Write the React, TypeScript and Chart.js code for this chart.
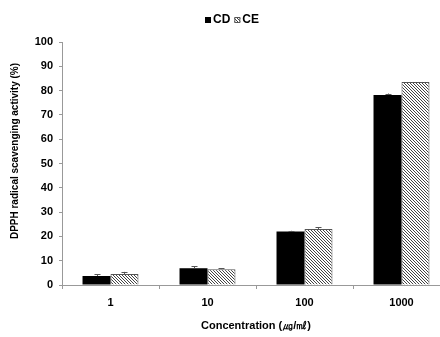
import React, { useEffect, useRef } from "react";
import { Chart, registerables } from "chart.js";

Chart.register(...registerables);

const categories = ["1", "10", "100", "1000"];
const cdValues = [3.7, 6.9, 22.0, 78.2];
const cdErrors = [0.7, 0.9, 0.3, 0.6];
const ceValues = [4.5, 6.5, 23.0, 83.5];
const ceErrors = [0.9, 0.3, 0.7, 0];
const seriesLabels = ["CD", "CE"];
const yTitle = "DPPH radical scavenging activity (%)";
const xTitle = "Concentration (㎍/㎖)";

const FONT = "'Liberation Sans', Arial, sans-serif";

function makeHatch(): CanvasPattern | string {
  const c = document.createElement("canvas");
  c.width = 3;
  c.height = 3;
  const ctx = c.getContext("2d");
  if (!ctx) return "#999";
  ctx.fillStyle = "#ffffff";
  ctx.fillRect(0, 0, 3, 3);
  ctx.fillStyle = "#444444";
  for (let i = 0; i < 3; i++) ctx.fillRect(i, i, 1, 1);
  const p = ctx.createPattern(c, "repeat");
  return p || "#999";
}

const errorBarPlugin = {
  id: "errorBars",
  afterDatasetsDraw(chart: any) {
    const ctx = chart.ctx;
    const yScale = chart.scales.y;
    const errs = [cdErrors, ceErrors];
    chart.data.datasets.forEach((ds: any, di: number) => {
      const meta = chart.getDatasetMeta(di);
      meta.data.forEach((el: any, i: number) => {
        const e = errs[di][i];
        if (!e) return;
        const v = ds.data[i];
        const yTop = yScale.getPixelForValue(v + e);
        const x = Math.round(el.x) + 0.5;
        ctx.save();
        ctx.strokeStyle = "#555555";
        ctx.lineWidth = 1;
        ctx.beginPath();
        ctx.moveTo(x, el.y);
        ctx.lineTo(x, yTop);
        ctx.moveTo(x - 3, Math.round(yTop) + 0.5);
        ctx.lineTo(x + 3, Math.round(yTop) + 0.5);
        ctx.stroke();
        ctx.restore();
      });
    });
  },
};

// Custom legend + rotated y title, drawn from the dataset labels / title constant
const legendAndTitlePlugin = {
  id: "legendAndTitle",
  afterDraw(chart: any) {
    const ctx = chart.ctx;
    ctx.save();
    // legend
    ctx.font = `bold 12px ${FONT}`;
    ctx.textBaseline = "middle";
    ctx.textAlign = "left";
    const box = 6;
    const gapBox = 2;
    const gapItem = 4;
    const items = chart.data.datasets.map((ds: any) => ({
      label: ds.label,
      fill: ds.backgroundColor,
      border: ds.borderWidth ? ds.borderColor : null,
      w: box + gapBox + ctx.measureText(ds.label).width,
    }));
    const total =
      items.reduce((s: number, it: any) => s + it.w, 0) + gapItem * (items.length - 1);
    let x = Math.round(232 - total / 2);
    const cy = 20;
    items.forEach((it: any) => {
      ctx.fillStyle = it.fill;
      ctx.fillRect(x, cy - box / 2, box, box);
      if (it.border) {
        ctx.strokeStyle = it.border;
        ctx.lineWidth = 1;
        ctx.strokeRect(x + 0.5, cy - box / 2 + 0.5, box - 1, box - 1);
      }
      ctx.fillStyle = "#000000";
      ctx.fillText(it.label, x + box + gapBox, cy);
      x += it.w + gapItem;
    });
    // y title
    ctx.font = `bold 10px ${FONT}`;
    ctx.textAlign = "center";
    ctx.textBaseline = "middle";
    ctx.translate(15, 151);
    ctx.rotate(-Math.PI / 2);
    ctx.fillText(yTitle, 0, 0);
    ctx.restore();
  },
};

export default function App() {
  const ref = useRef<HTMLCanvasElement | null>(null);
  useEffect(() => {
    if (!ref.current) return;
    const hatch = makeHatch();
    const chart = new Chart(ref.current, {
      type: "bar",
      data: {
        labels: categories,
        datasets: [
          {
            label: seriesLabels[0],
            data: cdValues,
            backgroundColor: "#000000",
            borderColor: "#000000",
            borderWidth: 0,
          },
          {
            label: seriesLabels[1],
            data: ceValues,
            backgroundColor: hatch as any,
            borderColor: "#555555",
            borderWidth: 1,
          },
        ],
      },
      plugins: [errorBarPlugin, legendAndTitlePlugin],
      options: {
        responsive: false,
        animation: false,
        datasets: {
          bar: { barPercentage: 1, categoryPercentage: 0.577 },
        },
        layout: { padding: { left: 0, top: 42, right: 0, bottom: 0 } },
        plugins: {
          tooltip: { enabled: false },
          legend: { display: false },
        },
        scales: {
          x: {
            grid: {
              offset: true,
              drawOnChartArea: false,
              tickLength: 4,
              color: "#999999",
            },
            border: { color: "#999999" },
            ticks: {
              color: "#000000",
              padding: 7,
              font: { family: FONT, size: 11, weight: "bold" },
            },
            title: {
              display: true,
              text: xTitle,
              color: "#000000",
              font: { family: FONT, size: 11, weight: "bold" },
              padding: { top: 16 },
            },
            afterFit(scale: any) {
              scale.height = 52;
            },
          },
          y: {
            min: 0,
            max: 100,
            grid: {
              drawOnChartArea: false,
              tickLength: 3,
              color: "#999999",
            },
            border: { color: "#999999" },
            ticks: {
              stepSize: 10,
              color: "#000000",
              padding: 6,
              font: { family: FONT, size: 11, weight: "bold" },
            },
            afterFit(scale: any) {
              scale.width = 62;
            },
          },
        },
      } as any,
    });
    return () => chart.destroy();
  }, []);
  return (
    <div
      style={{
        position: "fixed",
        left: 0,
        top: 0,
        width: 440,
        height: 337,
        overflow: "hidden",
        background: "#ffffff",
      }}
    >
      <canvas ref={ref} width={450} height={337} style={{ width: 450, height: 337, display: "block" }} />
    </div>
  );
}
